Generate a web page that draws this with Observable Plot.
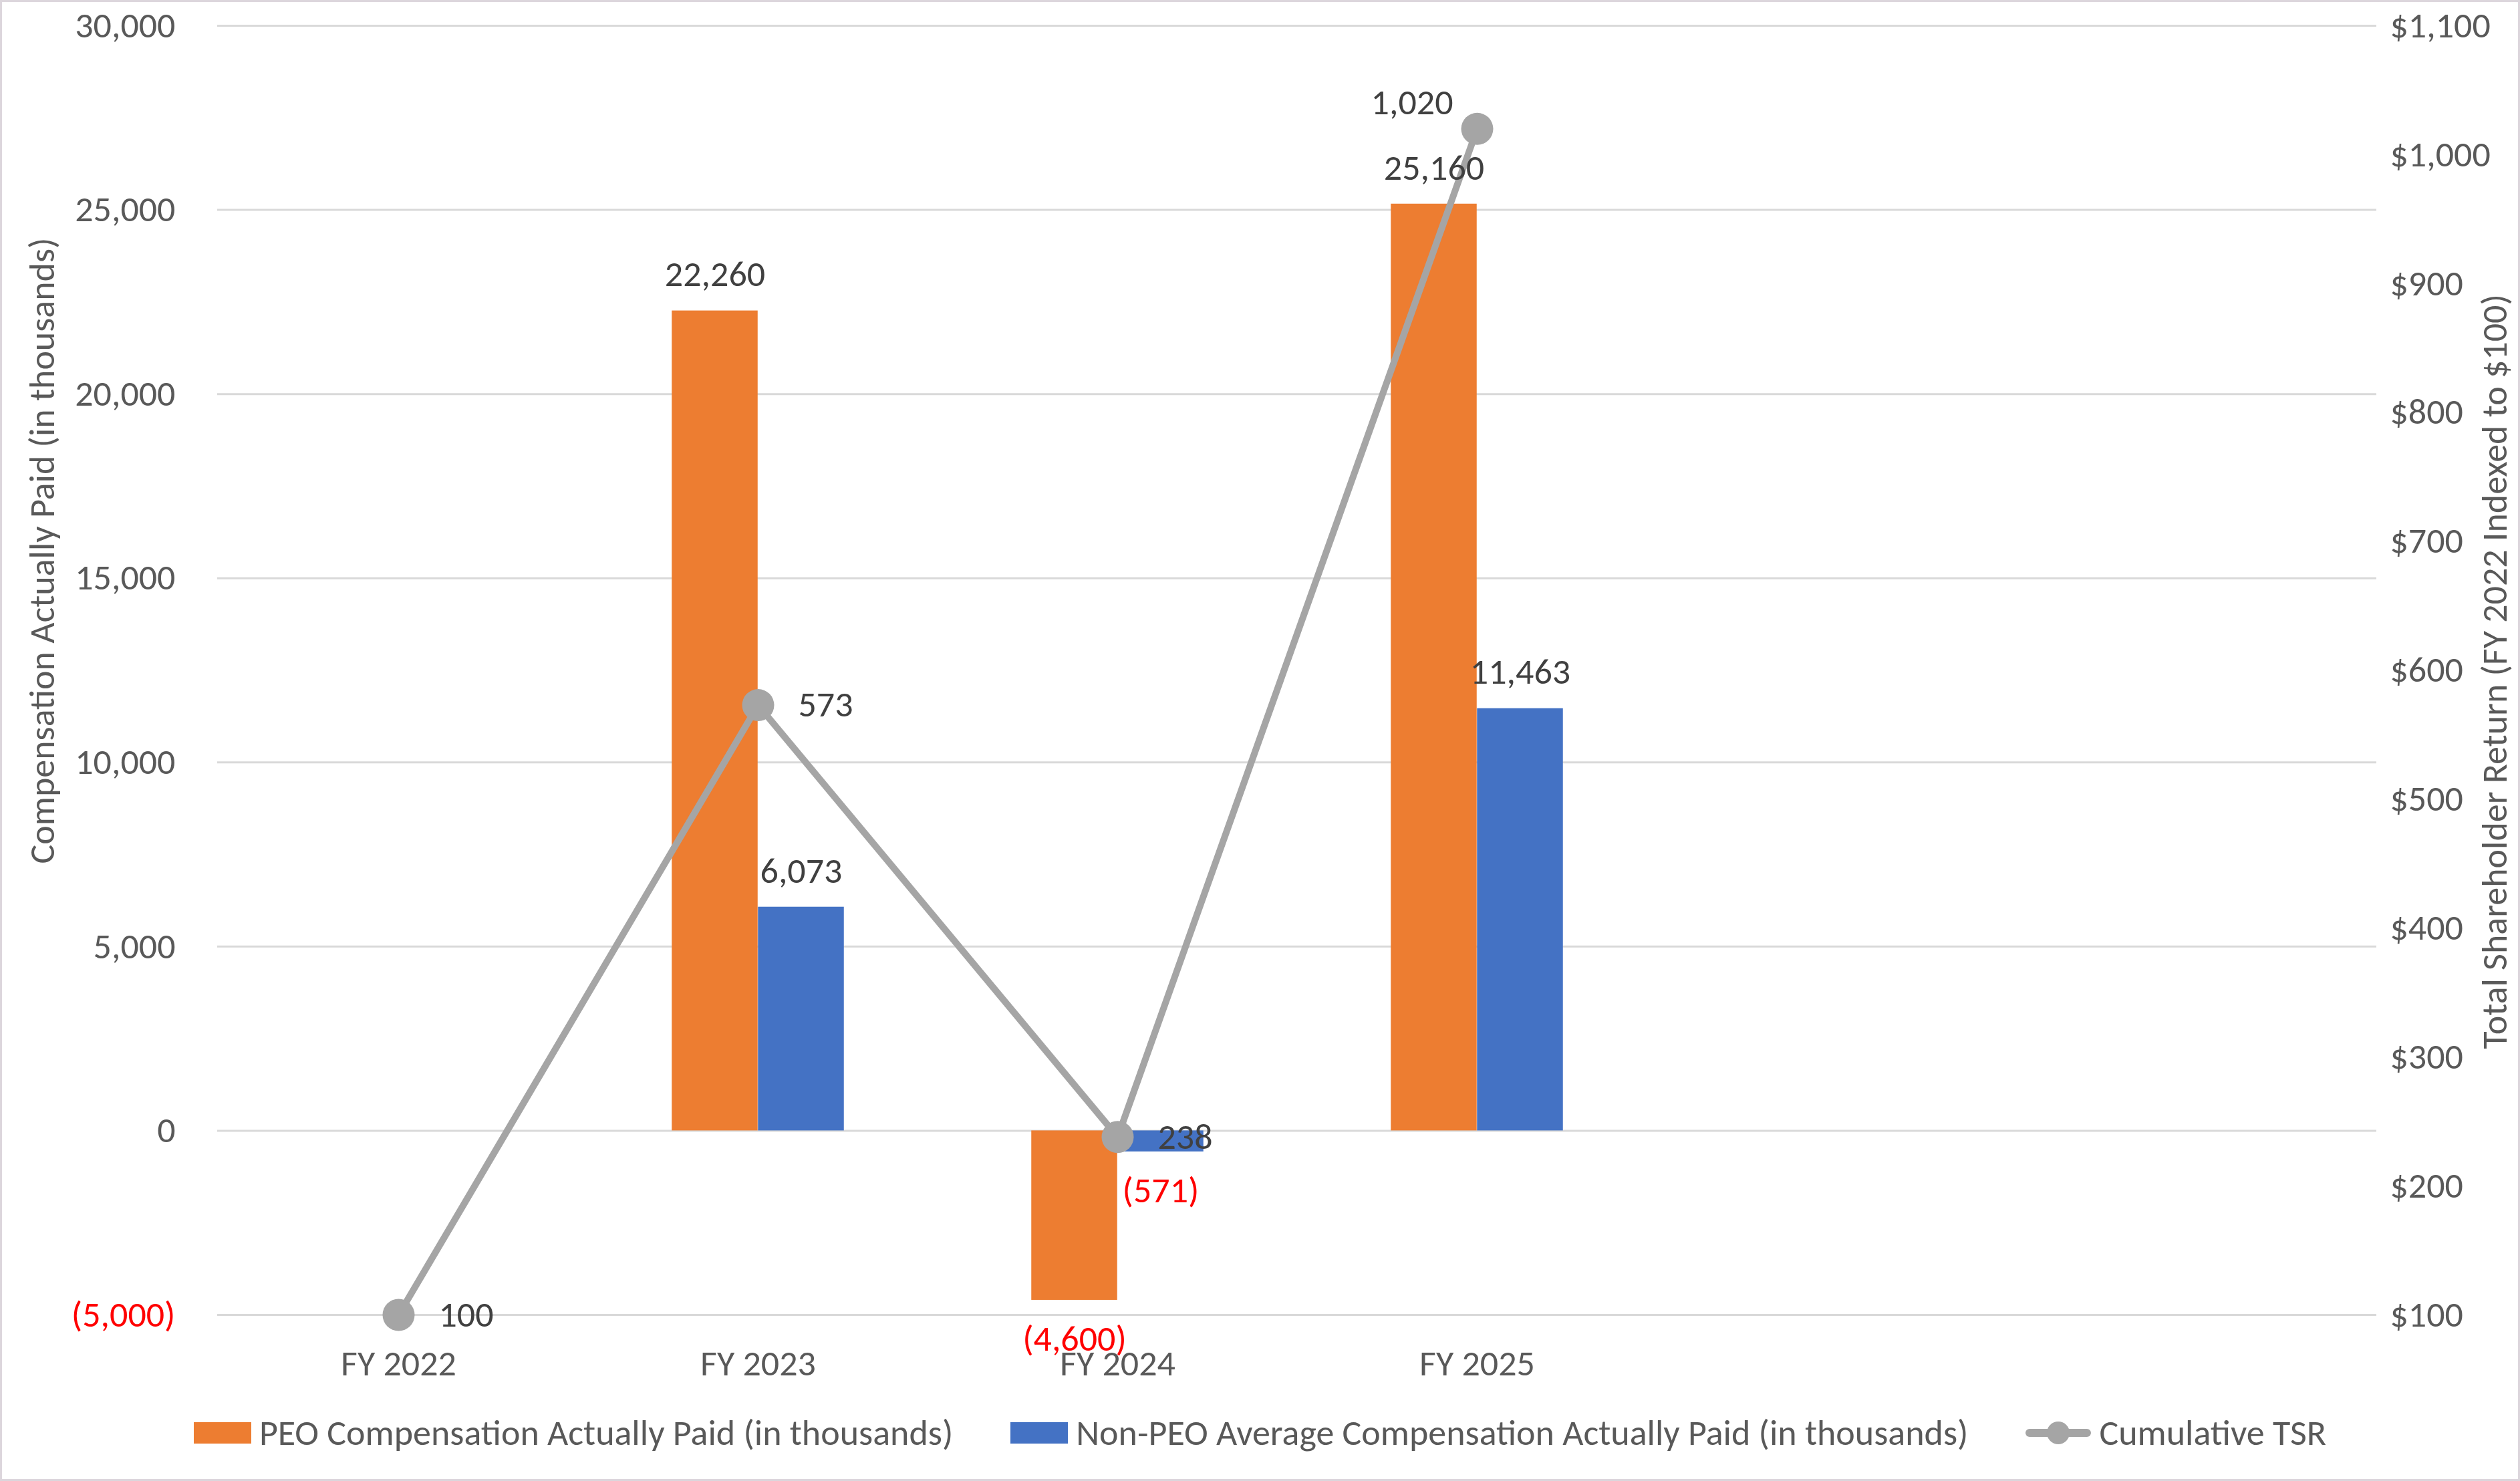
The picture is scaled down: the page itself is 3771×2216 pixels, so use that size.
<!DOCTYPE html>
<html><head><meta charset="utf-8">
<script src="https://cdn.jsdelivr.net/npm/d3@7"></script>
<script src="https://cdn.jsdelivr.net/npm/@observablehq/plot@0.6"></script>
<style>
html,body{margin:0;padding:0;background:#fff;}
#wrap{position:relative;width:3771px;height:2216px;background:#fff;font-family:Carlito,Calibri,Lato,sans-serif;overflow:hidden;}
#border{position:absolute;left:0;top:0;width:3771px;height:2216px;border:3px solid #dcd6dc;box-sizing:border-box;pointer-events:none;}
#chart{position:absolute;left:0;top:0;}
#legend{position:absolute;left:0;top:2090px;width:3771px;height:108px;display:flex;justify-content:center;align-items:center;gap:86px;font-size:54px;color:#595959;}
.item{display:flex;align-items:center;gap:12px;white-space:nowrap;}
</style></head><body><div id="wrap"><div id="chart"></div><div id="legend"></div><div id="border"></div></div>
<script>
// ---- data ----
const years = ["FY 2022", "FY 2023", "FY 2024", "FY 2025"];
const emptySlots = [" ", "  "];
const peoCAP = [null, 22260, -4600, 25160];
const nonPeoCAP = [null, 6073, -571, 11463];
const tsr = [100, 573, 238, 1020];
const leftTicks = [-5000, 0, 5000, 10000, 15000, 20000, 25000, 30000];
const rightTicks = [100, 200, 300, 400, 500, 600, 700, 800, 900, 1000, 1100];
const seriesNames = ["PEO Compensation Actually Paid (in thousands)", "Non-PEO Average Compensation Actually Paid (in thousands)", "Cumulative TSR"];
const seriesColors = ["#ED7D31", "#4472C4", "#A5A5A5"];
const leftTitle = "Compensation Actually Paid (in thousands)";
const rightTitle = "Total Shareholder Return (FY 2022 Indexed to $100)";

// ---- derived ----
const W = 3771, H = 2090;
const mL = 325, mR = 215, mT = 38, mB = 123;
const bandW = (W - mL - mR) / (years.length + emptySlots.length);
const barW = 129;
const leftDomain = [d3.min(leftTicks), d3.max(leftTicks)];
const rightDomain = [d3.min(rightTicks), d3.max(rightTicks)];
const toLeft = t => leftDomain[0] + (t - rightDomain[0]) * (leftDomain[1] - leftDomain[0]) / (rightDomain[1] - rightDomain[0]);
const fromLeft = v => rightDomain[0] + (v - leftDomain[0]) * (rightDomain[1] - rightDomain[0]) / (leftDomain[1] - leftDomain[0]);
const fmt = d3.format(",");
const paren = v => v < 0 ? "(" + fmt(-v) + ")" : fmt(v);

const peoRows = years.map((y, i) => ({year: y, v: peoCAP[i]})).filter(d => d.v != null);
const nonRows = years.map((y, i) => ({year: y, v: nonPeoCAP[i]})).filter(d => d.v != null);
const tsrRows = years.map((y, i) => ({year: y, t: tsr[i]}));
const tsrMax = d3.max(tsr);

const FONT = 54;
const labelFill = "#404040";
const tickFill = "#595959";

const barLabel = (rows, dx) => [
  Plot.text(rows.filter(d => d.v >= 0), {x: "year", y: "v", text: d => paren(d.v), dx, dy: -54, fill: labelFill, fontSize: FONT, lineAnchor: "middle"}),
  Plot.text(rows.filter(d => d.v < 0), {x: "year", y: "v", text: d => paren(d.v), dx, dy: 58, fill: "#FF0000", fontSize: FONT, lineAnchor: "middle"})
];

const chart = Plot.plot({
  width: W, height: H,
  marginLeft: mL, marginRight: mR, marginTop: mT, marginBottom: mB,
  style: {fontFamily: "Carlito, Calibri, Lato, sans-serif", fontSize: FONT + "px", background: "#fff", overflow: "visible"},
  x: {type: "band", domain: [...years, ...emptySlots], padding: 0},
  y: {domain: leftDomain},
  marks: [
    Plot.gridY(leftTicks, {stroke: "#d9d9d9", strokeOpacity: 1, strokeWidth: 3}),
    Plot.barY(peoRows, {x: "year", y: "v", fill: seriesColors[0], insetLeft: bandW / 2 - barW, insetRight: bandW / 2}),
    Plot.barY(nonRows, {x: "year", y: "v", fill: seriesColors[1], insetLeft: bandW / 2, insetRight: bandW / 2 - barW}),
    Plot.line(tsrRows, {x: "year", y: d => toLeft(d.t), stroke: seriesColors[2], strokeWidth: 10}),
    Plot.dot(tsrRows, {x: "year", y: d => toLeft(d.t), r: 24, fill: seriesColors[2], stroke: null}),
    ...barLabel(peoRows, -barW / 2),
    ...barLabel(nonRows, barW / 2),
    Plot.text(tsrRows.filter(d => d.t < tsrMax), {x: "year", y: d => toLeft(d.t), text: d => fmt(d.t), textAnchor: "start", dx: 60, fill: labelFill, fontSize: FONT, lineAnchor: "middle"}),
    Plot.text(tsrRows.filter(d => d.t === tsrMax), {x: "year", y: d => toLeft(d.t), text: d => fmt(d.t), textAnchor: "end", dx: -36, dy: -39, fill: labelFill, fontSize: FONT, lineAnchor: "middle"}),
    Plot.axisY(leftTicks.filter(t => t >= 0), {anchor: "left", tickSize: 0, tickPadding: 63, tickFormat: paren, fill: tickFill, label: null, fontSize: FONT}),
    Plot.axisY(leftTicks.filter(t => t < 0), {anchor: "left", tickSize: 0, tickPadding: 63, tickFormat: paren, fill: "#FF0000", label: null, fontSize: FONT}),
    Plot.axisY(rightTicks.map(toLeft), {anchor: "right", tickSize: 0, tickPadding: 20, tickFormat: v => "$" + fmt(Math.round(fromLeft(v))), fill: tickFill, label: null, fontSize: FONT}),
    Plot.axisX({tickSize: 0, tickPadding: 52, tickFormat: d => d.trim(), fill: tickFill, label: null, fontSize: FONT}),
    Plot.text([leftTitle], {frameAnchor: "left", textAnchor: "middle", dx: -262, dy: -179, rotate: -90, text: d => d, fill: tickFill, fontSize: FONT, lineAnchor: "middle"}),
    Plot.text([rightTitle], {frameAnchor: "right", textAnchor: "middle", dx: 177, dy: 2, rotate: -90, text: d => d, fill: tickFill, fontSize: FONT, lineAnchor: "middle"})
  ]
});
document.getElementById("chart").appendChild(chart);

// ---- legend ----
const legend = document.getElementById("legend");
seriesNames.forEach((name, i) => {
  const item = document.createElement("div");
  item.className = "item";
  let sw;
  if (i < 2) {
    sw = `<svg width="86" height="32"><rect width="86" height="32" fill="${seriesColors[i]}"/></svg>`;
  } else {
    sw = `<svg width="98" height="36"><line x1="6" y1="18" x2="92" y2="18" stroke="${seriesColors[i]}" stroke-width="12" stroke-linecap="round"/><circle cx="49" cy="18" r="17" fill="${seriesColors[i]}"/></svg>`;
  }
  item.innerHTML = sw + `<span>${name}</span>`;
  legend.appendChild(item);
});
</script></body></html>
